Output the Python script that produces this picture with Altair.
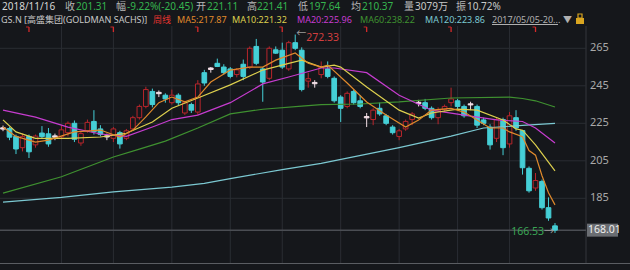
import altair as alt
import pandas as pd

# ---------------- data (weekly candles, GS.N, 2017/05/05 - 2018/12/21) ----------------
opens = [222.6, 222.2, 218.0, 212.0, 218.0, 213.5, 219.8, 219.4, 218.3, 217.8,
         220.0, 225.0, 214.5, 221.0, 226.0, 222.0, 218.3, 217.0, 220.0, 217.0,
         222.0, 228.0, 234.0, 242.0, 241.5, 240.0, 236.0, 240.0, 230.5, 235.0,
         231.0, 252.0, 253.7, 257.0, 255.0, 254.0, 251.0, 256.5, 255.0, 266.0,
         254.0, 249.0, 264.2, 264.0, 254.0, 268.0, 264.0, 247.5, 246.8, 251.0,
         254.0, 249.0, 239.0, 234.0, 242.0, 237.0, 228.6, 227.0, 233.0, 229.0,
         223.0, 218.0, 222.0, 227.0, 236.2, 236.0, 233.0, 228.0, 232.3, 236.0,
         237.0, 234.0, 235.4, 234.0, 226.8, 223.0, 217.0, 227.0, 214.0, 228.0,
         221.11, 201.0, 190.5, 194.0, 180.0, 170.3]
highs = [223.8, 223.0, 219.0, 219.5, 219.0, 219.0, 223.5, 222.5, 219.5, 224.0,
         226.0, 226.5, 220.5, 227.0, 232.0, 224.0, 219.5, 223.0, 221.0, 222.0,
         229.0, 235.0, 244.5, 243.5, 242.5, 241.0, 243.0, 241.0, 237.0, 236.0,
         248.0, 253.5, 255.0, 259.5, 256.5, 255.0, 254.5, 259.0, 266.0, 270.0,
         255.0, 266.0, 266.0, 268.0, 269.0, 272.33, 265.5, 252.0, 248.0, 258.0,
         258.0, 250.0, 240.0, 242.0, 243.0, 240.0, 230.5, 233.0, 236.0, 230.0,
         224.0, 222.0, 227.0, 231.0, 237.5, 238.0, 234.0, 233.5, 235.0, 244.0,
         238.0, 235.0, 236.5, 235.0, 228.0, 224.5, 228.0, 228.0, 231.0, 232.0,
         221.41, 202.0, 198.5, 195.0, 185.5, 171.8]
lows = [220.8, 216.0, 208.6, 210.0, 206.5, 212.0, 217.0, 212.5, 216.0, 216.5,
        218.0, 215.0, 213.0, 220.0, 219.0, 218.0, 216.0, 215.0, 211.5, 216.0,
        221.0, 227.0, 233.0, 233.5, 239.0, 236.0, 235.0, 234.5, 229.5, 230.5,
        229.5, 245.0, 252.0, 255.0, 251.0, 249.0, 249.5, 248.0, 254.0, 256.0,
        236.5, 248.0, 262.0, 254.0, 253.0, 264.0, 242.0, 244.0, 244.0, 249.0,
        249.0, 236.0, 225.7, 233.0, 235.0, 233.0, 223.0, 224.0, 229.0, 224.0,
        219.0, 216.0, 221.0, 224.0, 234.0, 232.0, 227.0, 224.5, 231.0, 234.0,
        232.0, 228.0, 232.0, 222.5, 224.0, 211.0, 215.0, 208.0, 212.0, 221.0,
        197.64, 188.0, 189.0, 179.0, 173.0, 166.53]
closes = [221.9, 217.6, 211.3, 218.0, 209.8, 218.2, 217.9, 214.0, 217.6, 221.5,
          225.0, 216.5, 219.5, 225.5, 220.5, 219.0, 217.7, 222.0, 214.0, 221.0,
          228.0, 234.0, 243.0, 235.0, 240.8, 238.0, 240.0, 236.0, 236.0, 232.0,
          246.0, 246.5, 254.5, 255.3, 252.0, 250.0, 253.5, 250.0, 265.0, 257.0,
          247.0, 265.0, 262.4, 255.0, 268.0, 265.0, 243.0, 248.8, 246.1, 255.0,
          250.0, 237.0, 233.0, 241.0, 236.0, 234.0, 227.9, 232.0, 230.0, 225.0,
          220.0, 221.0, 226.0, 230.0, 235.5, 233.0, 228.0, 232.0, 234.0, 238.0,
          234.0, 229.0, 234.8, 224.0, 225.0, 213.5, 227.0, 212.0, 229.0, 222.5,
          201.31, 189.0, 194.5, 180.0, 174.5, 168.01]

# moving averages (candle index -> value)
ma5_idx = [0, 2, 5, 7, 11, 15, 18, 20, 22, 24, 26, 28, 30, 32, 35, 38, 40, 42, 45, 47,
           49, 50, 53, 56, 59, 62, 64, 66, 69, 71, 73, 75, 77, 78, 80, 81, 82, 83, 84, 85]
ma5_val = [223.0, 218.0, 215.0, 216.0, 220.4, 221.4, 217.7, 221.4, 228.4, 236.0, 239.0, 236.4,
           239.0, 247.0, 253.4, 255.0, 255.0, 258.7, 262.5, 257.0, 255.0, 256.0, 246.5, 236.4,
           229.4, 223.0, 226.8, 232.0, 233.0, 231.0, 226.8, 222.5, 222.5, 220.4, 217.87,
           210.5, 208.0, 197.0, 188.0, 181.5]
ma10_idx = [0, 2, 5, 10, 15, 19, 23, 26, 30, 35, 40, 44, 46, 49, 51, 52, 56, 61, 64, 66,
            70, 73, 77, 79, 80, 82, 85]
ma10_val = [226.8, 220.4, 217.0, 217.0, 217.7, 219.7, 225.7, 233.0, 238.5, 245.5, 253.4, 257.0,
            258.7, 255.0, 256.0, 255.0, 244.4, 232.0, 227.8, 230.5, 232.6, 232.0, 226.8, 222.0,
            221.32, 213.5, 199.6]
ma20_idx = [0, 5, 10, 15, 19, 23, 26, 30, 35, 40, 44, 49, 51, 56, 61, 66, 71, 76, 80, 82, 85]
ma20_val = [232.0, 228.3, 223.0, 219.3, 218.0, 223.0, 227.0, 229.4, 236.0, 246.0, 249.7, 254.5,
            254.5, 252.0, 240.0, 232.0, 229.4, 226.8, 225.96, 222.5, 214.5]
ma60_idx = [0, 9, 17, 21, 25, 30, 35, 40, 46, 49, 55, 61, 69, 78, 80, 82, 85]
ma60_val = [187.8, 196.5, 207.0, 211.2, 215.5, 222.5, 230.0, 232.5, 234.2, 235.0, 235.3, 236.4,
            238.5, 239.0, 238.22, 237.0, 233.7]
ma120_idx = [0, 9, 17, 26, 31, 35, 43, 49, 61, 69, 74, 80, 85]
ma120_val = [183.0, 185.5, 188.4, 191.0, 193.0, 195.5, 200.3, 203.6, 212.0, 218.2, 222.5,
             223.86, 225.0]

grid_idx = [9, 17, 26, 35, 43, 52, 61, 70, 78]          # first week of every 2nd month
price_ticks = [265, 245, 225, 205, 185]
marker_idx = [4, 17, 30, 43, 56, 69, 82]                # red event flags along the top
last_price = 168.01
peak_idx, peak_val = 45, 272.33
low_idx, low_val = 85, 166.53

head1_text = ["2018/11/16", "收", "201.31", "幅", "-9.22%(-20.45)", "开", "221.11", "高",
              "221.41", "低", "197.64", "均", "210.37", "量", "3079万", "振", "10.72%"]
head1_kind = ["date", "lab", "val", "lab", "val", "lab", "val", "lab", "val", "lab", "val",
              "lab", "val", "lab", "plain", "lab", "plain"]
head2_text = ["GS.N [高盛集团(GOLDMAN SACHS)]", "周线", "MA5:217.87", "MA10:221.32",
              "MA20:225.96", "MA60:238.22", "MA120:223.86", "2017/05/05-20...", "▼"]
head2_kind = ["name", "period", "ma5", "ma10", "ma20", "ma60", "ma120", "range", "range"]

# ---------------- style / layout ----------------
BG = "#15171b"
GRID = "#2a2d33"
UP = "#b8262c"
DOWN = "#45cfd6"
DOJI = "#f2dee5"
MA_COL = {"ma5": "#e08a2c", "ma10": "#ddd04e", "ma20": "#c63ccf", "ma60": "#3f9130",
          "ma120": "#7cc9d2"}
TXT_COL = {"date": "#d6d6d6", "lab": "#b8b8b8", "val": "#35b54f", "plain": "#c8c8c8",
           "name": "#c8c8c8", "period": "#e3342f", "range": "#b0b0b0", **MA_COL}
FONT = "Noto Sans, Noto Sans CJK SC"
head1_x = [2, 65, 76, 116, 127, 196, 207, 247, 257, 298, 309, 351, 362, 404, 415, 456, 467]
head2_x = [1, 153, 177, 232, 297, 360, 425, 492, 563]
ROW1_Y, ROW2_Y = 7, 19.5

W, H = 630, 270
PLOT_R = 586
XS = alt.Scale(domain=[-0.462, 96.55], nice=False, zero=False)
YS = alt.Scale(domain=[146.76, 290.76], nice=False, zero=False)

cd = pd.DataFrame(dict(i=list(range(len(opens))), o=opens, h=highs, l=lows, c=closes))
def kind(r):
    if r.c - r.o >= 1.0:
        return "up"
    if r.o - r.c >= 1.0:
        return "down"
    return "doji"
cd["k"] = cd.apply(kind, axis=1)
cd["stroke"] = cd.k.map({"up": UP, "down": DOWN, "doji": DOJI})
cd["fill"] = cd.k.map({"up": BG, "down": DOWN, "doji": DOJI})

X = lambda f: alt.X(f, type="quantitative", scale=XS, axis=None)
Y = lambda f: alt.Y(f, type="quantitative", scale=YS, axis=None)

layers = []

# vertical grid
layers.append(alt.Chart(pd.DataFrame({"i": grid_idx})).mark_rule(color=GRID, strokeWidth=1).encode(
    x=X("i"), y=alt.value(26), y2=alt.value(263)))
# right border
layers.append(alt.Chart(pd.DataFrame({"a": [0]})).mark_rule(color="#34373d", strokeWidth=1).encode(
    x=alt.value(PLOT_R), y=alt.value(26), y2=alt.value(263)))
# horizontal grid
layers.append(alt.Chart(pd.DataFrame({"v": price_ticks})).mark_rule(color=GRID, strokeWidth=1).encode(
    y=Y("v"), x=alt.value(0), x2=alt.value(PLOT_R)))
# last price line
layers.append(alt.Chart(pd.DataFrame({"v": [last_price]})).mark_rule(color="#4a4d53", strokeWidth=1.5).encode(
    y=Y("v"), x=alt.value(0), x2=alt.value(PLOT_R)))
# bottom strip
layers.append(alt.Chart(pd.DataFrame({"a": [0]})).mark_rule(color="#5a5d62", strokeWidth=1).encode(
    y=alt.value(263.5), x=alt.value(0), x2=alt.value(W)))

# wicks
layers.append(alt.Chart(cd).mark_rule(strokeWidth=1).encode(
    x=X("i"), y=Y("l"), y2=alt.Y2("h"), color=alt.Color("stroke:N", scale=None)))
# bodies
layers.append(alt.Chart(cd).transform_calculate(x0="datum.i - 0.36", x1="datum.i + 0.36").mark_rect(
    strokeWidth=1).encode(
    x=X("x0"), x2=alt.X2("x1"), y=Y("o"), y2=alt.Y2("c"),
    fill=alt.Color("fill:N", scale=None), stroke=alt.Color("stroke:N", scale=None)))

# moving averages
for name, idx, val in [("ma120", ma120_idx, ma120_val), ("ma60", ma60_idx, ma60_val),
                       ("ma20", ma20_idx, ma20_val), ("ma10", ma10_idx, ma10_val),
                       ("ma5", ma5_idx, ma5_val)]:
    layers.append(alt.Chart(pd.DataFrame({"i": idx, "v": val})).mark_line(
        color=MA_COL[name], strokeWidth=1.2).encode(x=X("i"), y=Y("v")))

# red flags on top
layers.append(alt.Chart(pd.DataFrame({"i": marker_idx})).mark_rule(color="#d62a2a", strokeWidth=1.3).encode(
    x=X("i"), y=alt.value(27), y2=alt.value(32)))
layers.append(alt.Chart(pd.DataFrame({"i": marker_idx})).mark_tick(
    color="#d62a2a", orient="horizontal", size=3, thickness=1.3, xOffset=-1.5).encode(
    x=X("i"), y=alt.value(27)))

# peak / trough annotations
pk = pd.DataFrame({"i": [peak_idx], "v": [peak_val], "t": [f"{peak_val:.2f}"]})
layers.append(alt.Chart(pk).mark_text(text="←", color="#9a9a9a", fontSize=10, align="left",
                                      dx=1, dy=-1, font=FONT).encode(x=X("i"), y=Y("v")))
layers.append(alt.Chart(pk).mark_text(color="#d23f3f", fontSize=10.5, align="left", dx=11, dy=3,
                                      font=FONT).encode(x=X("i"), y=Y("v"), text="t:N"))
lw = pd.DataFrame({"i": [low_idx], "v": [low_val], "t": [f"{low_val:.2f}"]})
layers.append(alt.Chart(lw).mark_text(text="→", color="#9a9a9a", fontSize=10, align="right",
                                      dx=-1, dy=-1, font=FONT).encode(x=X("i"), y=Y("v")))
layers.append(alt.Chart(lw).mark_text(color="#3aa655", fontSize=10.5, align="right", dx=-11, dy=-1,
                                      font=FONT).encode(x=X("i"), y=Y("v"), text="t:N"))

# right axis labels
layers.append(alt.Chart(pd.DataFrame({"v": price_ticks})).mark_text(
    color="#a9a9a9", fontSize=11, align="left", baseline="middle", font=FONT).encode(
    y=Y("v"), x=alt.value(590), text="v:Q"))
# last price box
lp = pd.DataFrame({"v": [last_price], "t": [f"{last_price:.2f}"]})
layers.append(alt.Chart(lp).mark_rect(color="#6a6d72", height=13).encode(
    y=Y("v"), x=alt.value(587), x2=alt.value(618)))
layers.append(alt.Chart(lp).mark_text(color="#eeeeee", fontSize=10.5, align="left", baseline="middle",
                                      font=FONT).encode(y=Y("v"), x=alt.value(588), text="t:N"))

# header
h1 = pd.DataFrame({"t": head1_text, "px": head1_x, "py": [ROW1_Y] * len(head1_text),
                   "col": [TXT_COL[k] for k in head1_kind]})
h2 = pd.DataFrame({"t": head2_text, "px": head2_x, "py": [ROW2_Y] * len(head2_text),
                   "col": [TXT_COL[k] for k in head2_kind]})
layers.append(alt.Chart(h1).mark_text(fontSize=10, align="left", baseline="middle", font=FONT).encode(
    x=alt.X("px:Q", scale=None), y=alt.Y("py:Q", scale=None), text="t:N",
    color=alt.Color("col:N", scale=None)))
layers.append(alt.Chart(h2).mark_text(fontSize=9, align="left", baseline="middle", font=FONT).encode(
    x=alt.X("px:Q", scale=None), y=alt.Y("py:Q", scale=None), text="t:N",
    color=alt.Color("col:N", scale=None)))
# underline of the date range + lock icon
layers.append(alt.Chart(pd.DataFrame({"a": [0]})).mark_rule(color="#b0b0b0", strokeWidth=1).encode(
    x=alt.value(492), x2=alt.value(558), y=alt.value(24.5)))
layers.append(alt.Chart(pd.DataFrame({"a": [0]})).mark_rect(color="#d9a520").encode(
    x=alt.value(576), x2=alt.value(584), y=alt.value(18), y2=alt.value(24)))
layers.append(alt.Chart(pd.DataFrame({"a": [0]})).mark_rect(filled=False, stroke="#d9a520",
                                                             strokeWidth=1.2).encode(
    x=alt.value(578), x2=alt.value(582), y=alt.value(14), y2=alt.value(18)))

chart = alt.layer(*layers).properties(
    width=W, height=H, padding=0, autosize=alt.AutoSizeParams(type="none"), background=BG
).configure_view(strokeWidth=0)

chart.save("out.html", embed_options={"renderer": "svg", "actions": False})
